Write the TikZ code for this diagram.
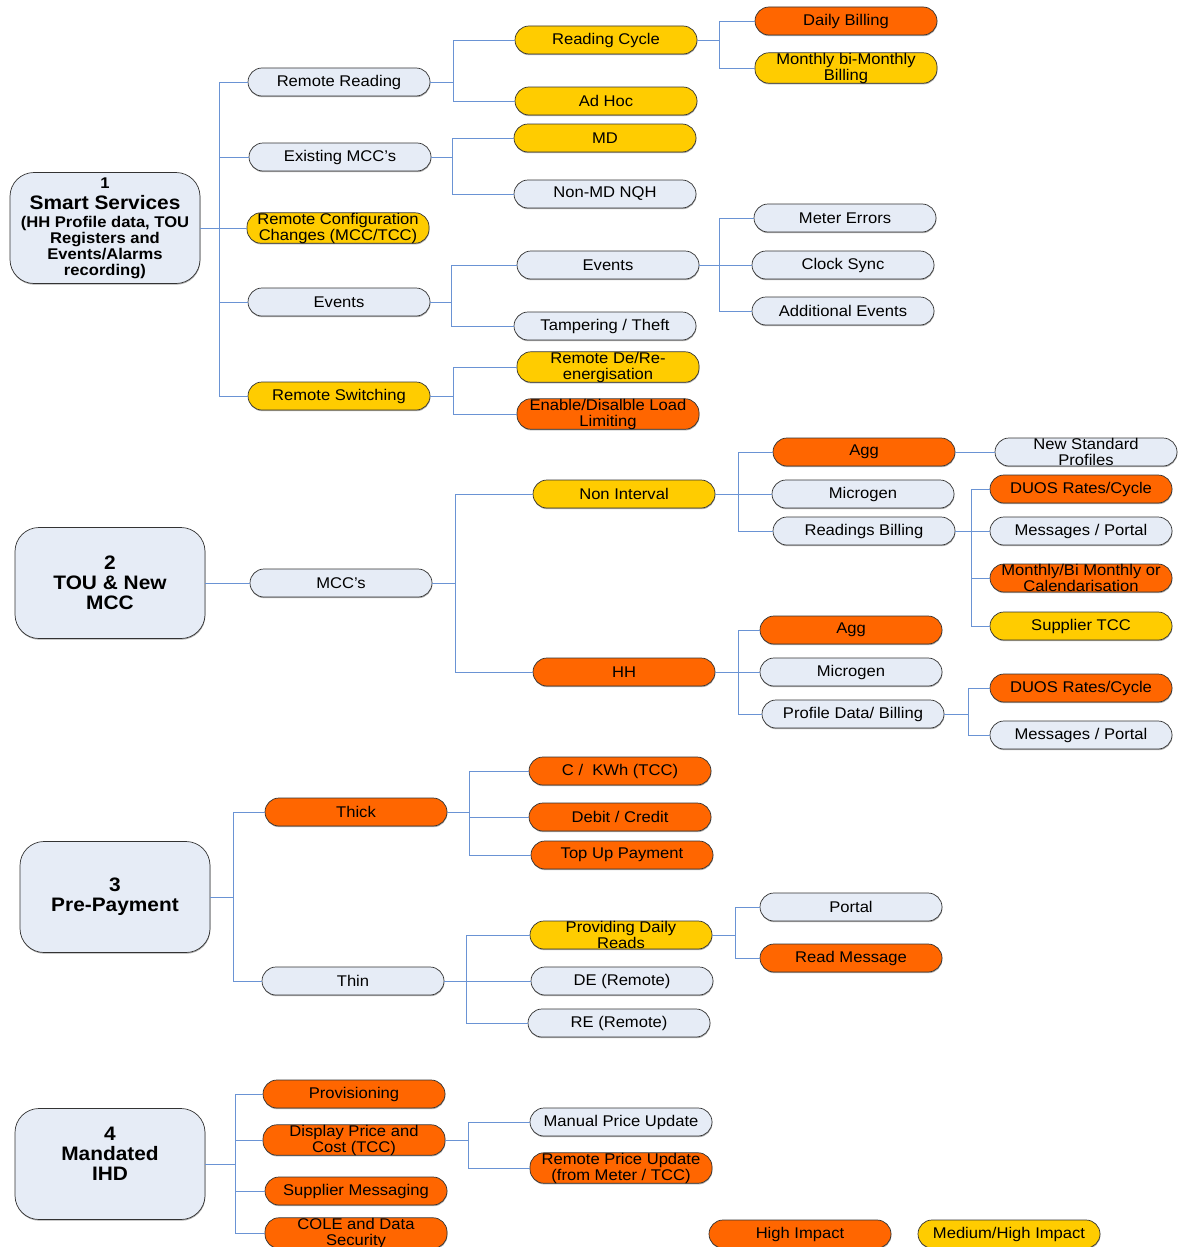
\documentclass[tikz,border=0pt]{standalone}
\usepackage{fontspec}
\setmainfont{Liberation Sans}[FakeStretch=1.07]
\usetikzlibrary{calc,shadows}

\definecolor{pillgrey}{HTML}{E6ECF6}
\definecolor{pillorange}{HTML}{FF6600}
\definecolor{pillyellow}{HTML}{FFCC00}
\definecolor{linkblue}{HTML}{6A93D4}

\begin{document}
\begin{tikzpicture}[x=1pt,y=-1pt]

        % Setup the styles for the boxes and links
        \tikzset{pill/.style={rectangle,
                              rounded corners=14pt,
                              minimum width=182pt,
                              minimum height=28pt,
                              inner sep=0pt,
                              align=center,
                              draw=black!80,
                              line width=0.7pt,
                              font=\fontsize{15.5}{16}\selectfont,
                              drop shadow={shadow xshift=0.4pt,shadow yshift=-1.2pt,opacity=0.45,fill=black!70}},
                 grey pill/.style={pill, fill=pillgrey},
                 orange pill/.style={pill, fill=pillorange},
                 yellow pill/.style={pill, fill=pillyellow},
                 main box/.style={rectangle,
                                  rounded corners=24pt,
                                  minimum width=190pt,
                                  minimum height=111pt,
                                  align=center,
                                  draw=black!80,
                                  line width=0.7pt,
                                  fill=pillgrey,
                                  font=\bfseries\fontsize{19.5}{20}\selectfont,
                                  drop shadow={shadow xshift=0.4pt,shadow yshift=-1.2pt,opacity=0.45,fill=black!70}},
                 link/.style={draw=linkblue, line width=0.8pt}}

        \useasboundingbox (0,0) rectangle (1178,1247);

        % Section 1: Smart Services
        \node[main box, font=\bfseries\fontsize{15.5}{16}\selectfont] at (105, 228) (S1)
            {1\\[5pt]
             {\fontsize{19.5}{20}\selectfont Smart Services}\\[2pt]
             (HH Profile data, TOU\\
             Registers and\\
             Events/Alarms\\
             recording)};
        \node[grey pill]   at (339, 82)   (RR)  {Remote Reading};
        \node[grey pill]   at (340, 157)  (EM)  {Existing MCC's};
        \node[yellow pill] at (338, 228)  (RC)  {Remote Configuration\\Changes (MCC/TCC)};
        \node[grey pill]   at (339, 302)  (EV)  {Events};
        \node[yellow pill] at (339, 396)  (RS)  {Remote Switching};

        \node[yellow pill] at (606, 40)   (RCy) {Reading Cycle};
        \node[yellow pill] at (606, 101)  (AH)  {Ad Hoc};
        \node[orange pill] at (846, 21)   (DB)  {Daily Billing};
        \node[yellow pill] at (846, 68)   (MB)  {Monthly bi-Monthly\\Billing};
        \node[yellow pill] at (605, 138)  (MD)  {MD};
        \node[grey pill]   at (605, 194)  (NMD) {Non-MD NQH};
        \node[grey pill]   at (608, 265)  (EV2) {Events};
        \node[grey pill]   at (605, 326)  (TT)  {Tampering / Theft};
        \node[grey pill]   at (845, 218)  (ME)  {Meter Errors};
        \node[grey pill]   at (843, 265)  (CS)  {Clock Sync};
        \node[grey pill]   at (843, 311)  (AE)  {Additional Events};
        \node[yellow pill] at (608, 367)  (RDE) {Remote De/Re-\\energisation};
        \node[orange pill] at (608, 414)  (ELL) {Enable/Disalble Load\\Limiting};

        % Section 2: TOU & New MCC
        \node[main box] at (110, 583) (S2) {2\\TOU \& New\\MCC};
        \node[grey pill]   at (341, 583)  (MCC)  {MCC's};
        \node[yellow pill] at (624, 494)  (NI)   {Non Interval};
        \node[orange pill] at (624, 672)  (HH)   {HH};
        \node[orange pill] at (864, 452)  (AggN) {Agg};
        \node[grey pill]   at (863, 494)  (MgN)  {Microgen};
        \node[grey pill]   at (864, 531)  (RBN)  {Readings Billing};
        \node[grey pill]   at (1086, 452) (NSP)  {New Standard\\Profiles};
        \node[orange pill] at (1081, 489) (DUa)  {DUOS Rates/Cycle};
        \node[grey pill]   at (1081, 531) (MPa)  {Messages / Portal};
        \node[orange pill] at (1081, 578) (MBa)  {Monthly/Bi Monthly or\\Calendarisation};
        \node[yellow pill] at (1081, 626) (STa)  {Supplier TCC};
        \node[orange pill] at (851, 630)  (AggH) {Agg};
        \node[grey pill]   at (851, 672)  (MgH)  {Microgen};
        \node[grey pill]   at (853, 714)  (PDB)  {Profile Data/ Billing};
        \node[orange pill] at (1081, 688) (DUb)  {DUOS Rates/Cycle};
        \node[grey pill]   at (1081, 735) (MPb)  {Messages / Portal};

        % Section 3: Pre-Payment
        \node[main box] at (115, 897) (S3) {3\\Pre-Payment};
        \node[orange pill] at (356, 812)  (TK)  {Thick};
        \node[grey pill]   at (353, 981)  (TN)  {Thin};
        \node[orange pill] at (620, 771)  (CK)  {C / \ KWh (TCC)};
        \node[orange pill] at (620, 817)  (DC)  {Debit / Credit};
        \node[orange pill] at (622, 855)  (TU)  {Top Up Payment};
        \node[yellow pill] at (621, 935)  (PDR) {Providing Daily\\Reads};
        \node[grey pill]   at (622, 981)  (DE)  {DE (Remote)};
        \node[grey pill]   at (619, 1023) (RE)  {RE (Remote)};
        \node[grey pill]   at (851, 907)  (PO)  {Portal};
        \node[orange pill] at (851, 958)  (RM)  {Read Message};

        % Section 4: Mandated IHD
        \node[main box] at (110, 1164) (S4) {4\\Mandated\\IHD\\~};
        \node[orange pill] at (354, 1094) (PR)  {Provisioning};
        \node[orange pill] at (354, 1140) (DP)  {Display Price and\\Cost (TCC)};
        \node[orange pill] at (356, 1191) (SM)  {Supplier Messaging};
        \node[orange pill] at (356, 1233) (CO)  {COLE and Data\\Security};
        \node[grey pill]   at (621, 1122) (MPU) {Manual Price Update};
        \node[orange pill] at (621, 1168) (RPU) {Remote Price Update\\(from Meter / TCC)};

        % Legend
        \node[orange pill] at (800, 1234)  (HI)  {High Impact};
        \node[yellow pill] at (1009, 1234) (MHI) {Medium/High Impact};

        % Bus positions
        \coordinate (bS1) at (219, 0);
        \coordinate (bRR) at (453, 0);
        \coordinate (bRC) at (719, 0);
        \coordinate (bEM) at (452, 0);
        \coordinate (bEV) at (451, 0);
        \coordinate (bE2) at (719, 0);
        \coordinate (bRS) at (453, 0);
        \coordinate (bS2) at (455, 0);
        \coordinate (bNI) at (738, 0);
        \coordinate (bRB) at (971, 0);
        \coordinate (bHH) at (738, 0);
        \coordinate (bPD) at (968, 0);
        \coordinate (bS3) at (233, 0);
        \coordinate (bTK) at (469, 0);
        \coordinate (bTN) at (466, 0);
        \coordinate (bPR) at (735, 0);
        \coordinate (bS4) at (235, 0);
        \coordinate (bDP) at (468, 0);

        % Connect the boxes
        \draw[link]
            (S1.east) -- (S1.east -| bS1)
            (S1.east -| bS1) |- (RR.west)
            (S1.east -| bS1) |- (EM.west)
            (S1.east -| bS1) |- (RC.west)
            (S1.east -| bS1) |- (EV.west)
            (S1.east -| bS1) |- (RS.west)
            (RR.east) -- (RR.east -| bRR)
            (RR.east -| bRR) |- (RCy.west)
            (RR.east -| bRR) |- (AH.west)
            (RCy.east) -- (RCy.east -| bRC)
            (RCy.east -| bRC) |- (DB.west)
            (RCy.east -| bRC) |- (MB.west)
            (EM.east) -- (EM.east -| bEM)
            (EM.east -| bEM) |- (MD.west)
            (EM.east -| bEM) |- (NMD.west)
            (EV.east) -- (EV.east -| bEV)
            (EV.east -| bEV) |- (EV2.west)
            (EV.east -| bEV) |- (TT.west)
            (EV2.east) -- (EV2.east -| bE2)
            (EV2.east -| bE2) |- (ME.west)
            (EV2.east -| bE2) |- (CS.west)
            (EV2.east -| bE2) |- (AE.west)
            (RS.east) -- (RS.east -| bRS)
            (RS.east -| bRS) |- (RDE.west)
            (RS.east -| bRS) |- (ELL.west)
            ;
        \draw[link]
            (S2.east) -- (MCC.west)
            (MCC.east) -- (MCC.east -| bS2)
            (MCC.east -| bS2) |- (NI.west)
            (MCC.east -| bS2) |- (HH.west)
            (NI.east) -- (NI.east -| bNI)
            (NI.east -| bNI) |- (AggN.west)
            (NI.east -| bNI) |- (MgN.west)
            (NI.east -| bNI) |- (RBN.west)
            (AggN.east) -- (NSP.west)
            (RBN.east) -- (RBN.east -| bRB)
            (RBN.east -| bRB) |- (DUa.west)
            (RBN.east -| bRB) |- (MPa.west)
            (RBN.east -| bRB) |- (MBa.west)
            (RBN.east -| bRB) |- (STa.west)
            (HH.east) -- (HH.east -| bHH)
            (HH.east -| bHH) |- (AggH.west)
            (HH.east -| bHH) |- (MgH.west)
            (HH.east -| bHH) |- (PDB.west)
            (PDB.east) -- (PDB.east -| bPD)
            (PDB.east -| bPD) |- (DUb.west)
            (PDB.east -| bPD) |- (MPb.west)
            ;
        \draw[link]
            (S3.east) -- (S3.east -| bS3)
            (S3.east -| bS3) |- (TK.west)
            (S3.east -| bS3) |- (TN.west)
            (TK.east) -- (TK.east -| bTK)
            (TK.east -| bTK) |- (CK.west)
            (TK.east -| bTK) |- (DC.west)
            (TK.east -| bTK) |- (TU.west)
            (TN.east) -- (TN.east -| bTN)
            (TN.east -| bTN) |- (PDR.west)
            (TN.east -| bTN) |- (DE.west)
            (TN.east -| bTN) |- (RE.west)
            (PDR.east) -- (PDR.east -| bPR)
            (PDR.east -| bPR) |- (PO.west)
            (PDR.east -| bPR) |- (RM.west)
            ;
        \draw[link]
            (S4.east) -- (S4.east -| bS4)
            (S4.east -| bS4) |- (PR.west)
            (S4.east -| bS4) |- (DP.west)
            (S4.east -| bS4) |- (SM.west)
            (S4.east -| bS4) |- (CO.west)
            (DP.east) -- (DP.east -| bDP)
            (DP.east -| bDP) |- (MPU.west)
            (DP.east -| bDP) |- (RPU.west)
            ;
\end{tikzpicture}
\end{document}
